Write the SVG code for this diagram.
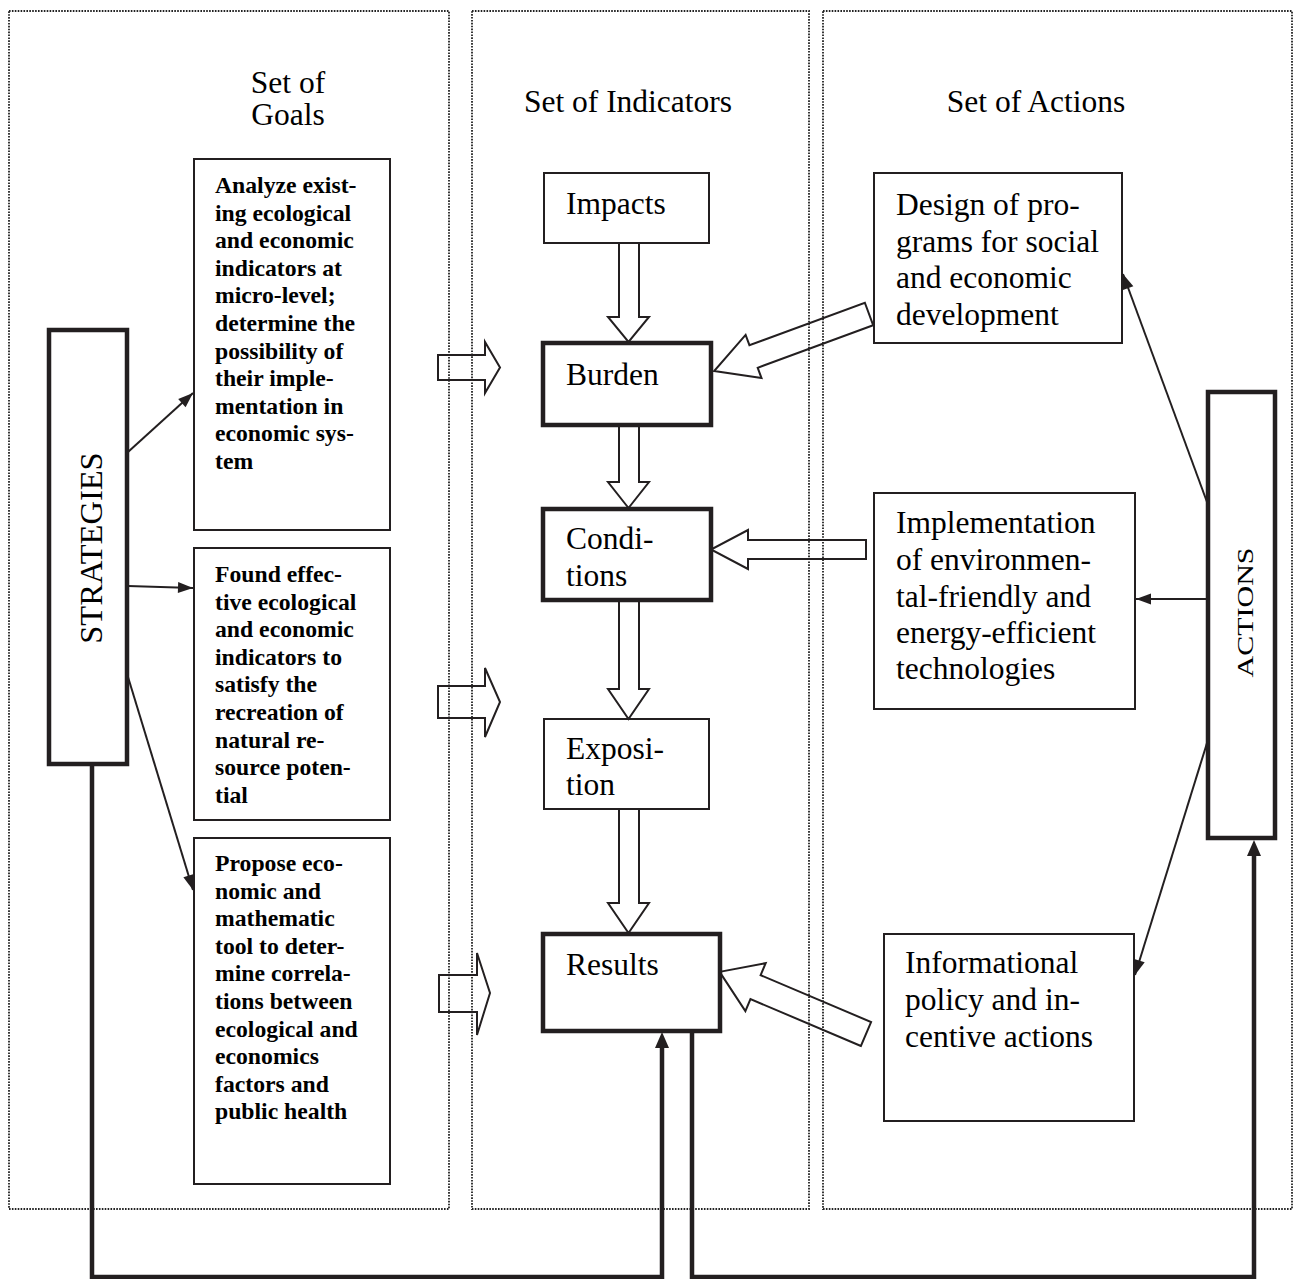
<svg xmlns="http://www.w3.org/2000/svg" width="1297" height="1279" viewBox="0 0 1297 1279">
<style>
.panel{fill:none;stroke:#222;stroke-width:1.8;stroke-dasharray:1.6 1.3}
.box{fill:#fff;stroke:#231f20;stroke-width:2}
.tbox{fill:#fff;stroke:#231f20;stroke-width:4.5}
.blk{fill:none;stroke:#231f20;stroke-width:2;stroke-linejoin:miter}
.ln{fill:none;stroke:#231f20;stroke-width:2}
.tk{fill:none;stroke:#231f20;stroke-width:4.5}
.t{font-family:"Liberation Serif","Times New Roman",serif;font-size:31.5px;fill:#000}
.g{font-family:"Liberation Serif","Times New Roman",serif;font-size:23.7px;font-weight:bold;fill:#000}
</style>
<defs>
<marker id="ah" markerUnits="userSpaceOnUse" markerWidth="16" markerHeight="12" refX="15" refY="5.5" orient="auto" overflow="visible"><path d="M0,0 L15,5.5 L0,11 z" fill="#231f20"/></marker>
<marker id="ahk" markerUnits="userSpaceOnUse" markerWidth="18" markerHeight="16" refX="0" refY="7.5" orient="auto" overflow="visible"><path d="M0,0.5 L16,7.5 L0,14.5 z" fill="#231f20"/></marker>
</defs>
<rect width="1297" height="1279" fill="#fff"/>

<g id="panels">
<rect class="panel" x="9" y="11" width="440" height="1198"/>
<rect class="panel" x="472" y="11" width="337" height="1198"/>
<rect class="panel" x="823" y="11" width="469" height="1198"/>
</g>

<g id="headers">
<text class="t" x="288" y="93" text-anchor="middle">Set of</text>
<text class="t" x="288" y="125" text-anchor="middle">Goals</text>
<text class="t" x="628" y="112" text-anchor="middle">Set of Indicators</text>
<text class="t" x="1036" y="112" text-anchor="middle">Set of Actions</text>
</g>

<g id="strategies">
<rect class="tbox" x="49" y="330" width="78" height="434"/>
<text class="t" transform="translate(102,548) rotate(-90)" text-anchor="middle" style="font-size:32.5px">STRATEGIES</text>
</g>

<g id="goal1">
<rect class="box" x="194" y="159" width="196" height="371"/>
<text class="g" x="215" y="193">Analyze exist-</text>
<text class="g" x="215" y="220.6">ing ecological</text>
<text class="g" x="215" y="248.2">and economic</text>
<text class="g" x="215" y="275.8">indicators at</text>
<text class="g" x="215" y="303.4">micro-level;</text>
<text class="g" x="215" y="331">determine the</text>
<text class="g" x="215" y="358.6">possibility of</text>
<text class="g" x="215" y="386.2">their imple-</text>
<text class="g" x="215" y="413.8">mentation in</text>
<text class="g" x="215" y="441.4">economic sys-</text>
<text class="g" x="215" y="469">tem</text>
</g>

<g id="goal2">
<rect class="box" x="194" y="548" width="196" height="272"/>
<text class="g" x="215" y="582">Found effec-</text>
<text class="g" x="215" y="609.6">tive ecological</text>
<text class="g" x="215" y="637.2">and economic</text>
<text class="g" x="215" y="664.8">indicators to</text>
<text class="g" x="215" y="692.4">satisfy the</text>
<text class="g" x="215" y="720">recreation of</text>
<text class="g" x="215" y="747.6">natural re-</text>
<text class="g" x="215" y="775.2">source poten-</text>
<text class="g" x="215" y="802.8">tial</text>
</g>

<g id="goal3">
<rect class="box" x="194" y="838" width="196" height="346"/>
<text class="g" x="215" y="871">Propose eco-</text>
<text class="g" x="215" y="898.6">nomic and</text>
<text class="g" x="215" y="926.2">mathematic</text>
<text class="g" x="215" y="953.8">tool to deter-</text>
<text class="g" x="215" y="981.4">mine correla-</text>
<text class="g" x="215" y="1009">tions between</text>
<text class="g" x="215" y="1036.6">ecological and</text>
<text class="g" x="215" y="1064.2">economics</text>
<text class="g" x="215" y="1091.8">factors and</text>
<text class="g" x="215" y="1119.4">public health</text>
</g>

<g id="impacts">
<rect class="box" x="544" y="173" width="165" height="70"/>
<text class="t" x="566" y="214">Impacts</text>
</g>
<g id="burden">
<rect class="tbox" x="543" y="343" width="168" height="82"/>
<text class="t" x="566" y="385">Burden</text>
</g>
<g id="conditions">
<rect class="tbox" x="543" y="509" width="168" height="91"/>
<text class="t" x="566" y="549">Condi-</text>
<text class="t" x="566" y="586">tions</text>
</g>
<g id="exposition">
<rect class="box" x="544" y="719" width="165" height="90"/>
<text class="t" x="566" y="759">Exposi-</text>
<text class="t" x="566" y="795">tion</text>
</g>
<g id="results">
<rect class="tbox" x="543" y="934" width="177" height="97"/>
<text class="t" x="566" y="975">Results</text>
</g>

<g id="design">
<rect class="box" x="874" y="173" width="248" height="170"/>
<text class="t" x="896" y="215">Design of pro-</text>
<text class="t" x="896" y="252">grams for social</text>
<text class="t" x="896" y="288">and economic</text>
<text class="t" x="896" y="325">development</text>
</g>
<g id="implementation">
<rect class="box" x="874" y="493" width="261" height="216"/>
<text class="t" x="896" y="533">Implementation</text>
<text class="t" x="896" y="570">of environmen-</text>
<text class="t" x="896" y="607">tal-friendly and</text>
<text class="t" x="896" y="643">energy-efficient</text>
<text class="t" x="896" y="679">technologies</text>
</g>
<g id="informational">
<rect class="box" x="884" y="934" width="250" height="187"/>
<text class="t" x="905" y="973">Informational</text>
<text class="t" x="905" y="1010">policy and in-</text>
<text class="t" x="905" y="1047">centive actions</text>
</g>

<g id="actions">
<rect class="tbox" x="1208" y="392" width="67" height="446"/>
<text class="t" transform="translate(1253,612.5) rotate(-90) scale(1,0.74)" text-anchor="middle" style="font-size:30px">ACTIONS</text>
</g>

<g id="connectors">
<polygon class="blk" points="619,243 639,243 639,317 649,317 628.5,342 608,317 619,317"/>
<polygon class="blk" points="619,425 639,425 639,482 649,482 628.5,508 608,482 619,482"/>
<polygon class="blk" points="619,600 639,600 639,689 649,689 628.5,719 608,689 619,689"/>
<polygon class="blk" points="619,809 639,809 639,903 649,903 628.5,933 608,903 619,903"/>
<polygon class="blk" points="438,355 485,355 485,342 500,367.5 485,393 485,380 438,380"/>
<polygon class="blk" points="438,686 485,686 485,668 500,702 485,737 485,718 438,718"/>
<polygon class="blk" points="439,975 477,975 477,953 490,993 477,1035 477,1012 439,1012"/>
<polygon class="blk" transform="translate(869,314) rotate(159.8)" points="0,-12 123,-12 123,-23 165,0 123,23 123,12 0,12"/>
<polygon class="blk" points="866,540 748,540 748,530 711,549.5 748,569 748,559 866,559"/>
<polygon class="blk" transform="translate(866,1034) rotate(203)" points="0,-13 120,-13 120,-26 159,0 120,26 120,13 0,13"/>
<line class="ln" x1="128" y1="452" x2="193" y2="393" marker-end="url(#ah)"/>
<line class="ln" x1="128" y1="586" x2="193" y2="588" marker-end="url(#ah)"/>
<line class="ln" x1="128" y1="677" x2="193" y2="890" marker-end="url(#ah)"/>
<line class="ln" x1="1207" y1="502" x2="1123" y2="274" marker-end="url(#ah)"/>
<line class="ln" x1="1207" y1="599" x2="1136" y2="599" marker-end="url(#ah)"/>
<line class="ln" x1="1207" y1="743" x2="1135" y2="975" marker-end="url(#ah)"/>
<path class="tk" d="M92,764 V1277 H662 V1048" marker-end="url(#ahk)"/>
<path class="tk" d="M692,1031 V1277 H1254 V856" marker-end="url(#ahk)"/>
</g>
</svg>
